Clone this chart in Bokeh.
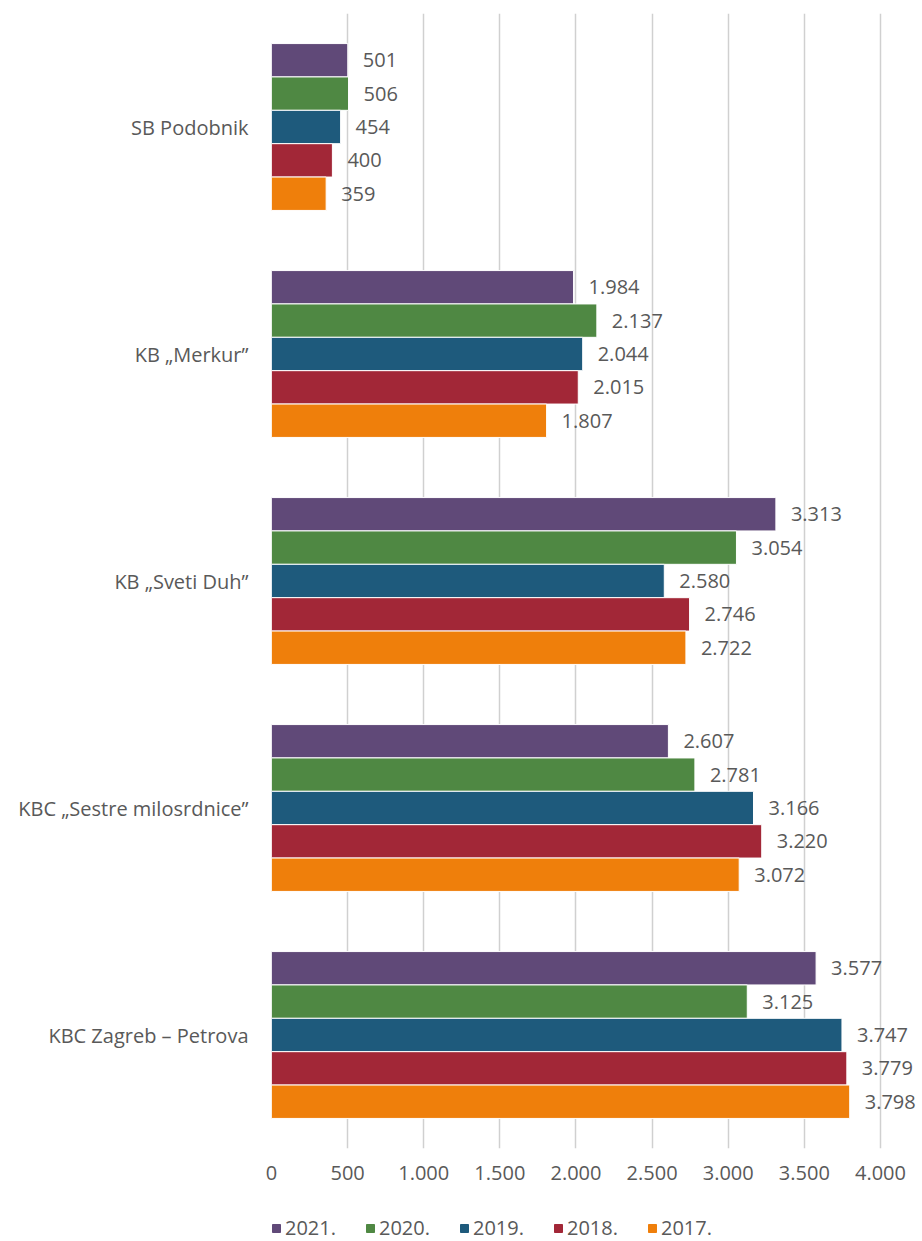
from bokeh.plotting import figure
from bokeh.layouts import column
from bokeh.models import (Range1d, FixedTicker, ColumnDataSource, Legend, LegendItem)
from bokeh.core.properties import value
from bokeh.embed import file_html
from bokeh.resources import INLINE

categories = ["SB Podobnik", "KB „Merkur”", "KB „Sveti Duh”",
              "KBC „Sestre milosrdnice”", "KBC Zagreb – Petrova"]
years = ["2021.", "2020.", "2019.", "2018.", "2017."]
v2021 = [501, 1984, 3313, 2607, 3577]
v2020 = [506, 2137, 3054, 2781, 3125]
v2019 = [454, 2044, 2580, 3166, 3747]
v2018 = [400, 2015, 2746, 3220, 3779]
v2017 = [359, 1807, 2722, 3072, 3798]
series = [v2021, v2020, v2019, v2018, v2017]
colors = ["#604978", "#4F8843", "#1E5A7C", "#A22737", "#EF7F0B"]
x_ticks = [0, 500, 1000, 1500, 2000, 2500, 3000, 3500, 4000]
x_tick_labels = ["0", "500", "1.000", "1.500", "2.000", "2.500", "3.000", "3.500", "4.000"]

FONT = "Open Sans"
GRAY = "#595959"

W, H1, H2 = 922, 1200, 41
p = figure(width=W, height=H1, output_backend="svg", toolbar_location=None,
           x_range=Range1d(0, 4276), y_range=Range1d(-0.5, 4.5),
           min_border_left=271, min_border_right=0, min_border_top=13,
           min_border_bottom=52)
p.outline_line_color = None
p.background_fill_color = "white"
p.border_fill_color = "white"

# grid
p.xgrid.ticker = FixedTicker(ticks=x_ticks)
p.xgrid.grid_line_color = "#d0d0d0"
p.xgrid.grid_line_width = 1.5
p.ygrid.grid_line_color = None

# axes
p.xaxis.ticker = FixedTicker(ticks=x_ticks)
p.xaxis.major_label_overrides = {t: l for t, l in zip(x_ticks, x_tick_labels)}
p.xaxis.axis_line_color = None
p.xaxis.major_tick_line_color = None
p.xaxis.minor_tick_line_color = None
p.xaxis.major_tick_out = 0
p.xaxis.major_tick_in = 0
p.xaxis.major_label_standoff = 17
p.xaxis.major_label_text_font = FONT
p.xaxis.major_label_text_font_size = "20px"
p.xaxis.major_label_text_color = GRAY

n = len(categories)
ypos = [n - 1 - i for i in range(n)]
p.yaxis.ticker = FixedTicker(ticks=ypos)
p.yaxis.major_label_overrides = {y: c for y, c in zip(ypos, categories)}
p.yaxis.axis_line_color = None
p.yaxis.major_tick_line_color = None
p.yaxis.minor_tick_line_color = None
p.yaxis.major_tick_out = 0
p.yaxis.major_tick_in = 0
p.yaxis.major_label_standoff = 23
p.yaxis.major_label_text_font = FONT
p.yaxis.major_label_text_font_size = "20px"
p.yaxis.major_label_text_color = GRAY

bh = 0.147
for k, (vals, col, yr) in enumerate(zip(series, colors, years)):
    off = (2 - k) * bh
    src = ColumnDataSource(dict(
        y=[y + off for y in ypos],
        v=vals,
        lbl=[f"{v:,}".replace(",", ".") for v in vals],
    ))
    p.hbar(y="y", right="v", left=0, height=bh, source=src,
           fill_color=col, line_color="white", line_width=1)
    p.text(x="v", y="y", text="lbl", source=src, x_offset=15,
           text_align="left", text_baseline="middle",
           text_font=value(FONT), text_font_size="20px", text_color=GRAY)

# legend strip (separate small figure below the chart)
lg = figure(width=W, height=H2, output_backend="svg", toolbar_location=None,
            x_range=Range1d(0, 1), y_range=Range1d(0, 1),
            min_border_left=0, min_border_right=0, min_border_top=0,
            min_border_bottom=0)
lg.axis.visible = False
lg.grid.visible = False
lg.outline_line_color = None
items = []
for vals, col, yr in zip(series, colors, years):
    # key swatch renderer, kept outside the visible strip range
    r = lg.hbar(y=[-5], right=[vals[0]], left=0, height=0.5,
                fill_color=col, line_color=col)
    items.append(LegendItem(label=yr, renderers=[r]))
legend = Legend(items=items, orientation="horizontal", location=(0, 0),
                glyph_width=10, glyph_height=10, label_standoff=4, spacing=29,
                padding=0, margin=0, border_line_color=None,
                background_fill_alpha=0,
                label_text_font=FONT, label_text_font_size="20px",
                label_text_color=GRAY, label_height=20)
lg.add_layout(legend, "center")

layout = column(p, lg, spacing=0)
open("out.html", "w").write(file_html(layout, INLINE))
